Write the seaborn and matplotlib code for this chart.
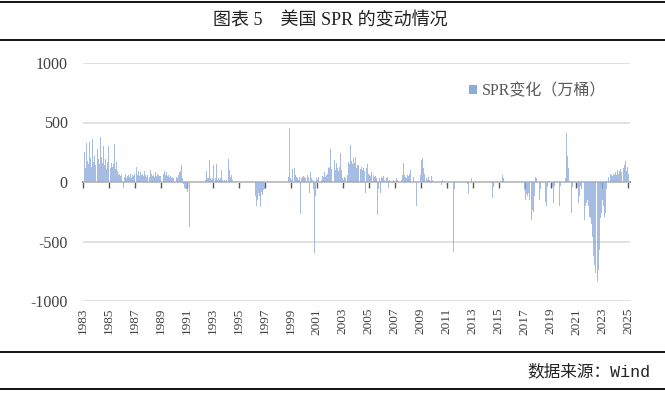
"""美国 SPR 周度变动柱状图（按月读取的近似值）。"""

import matplotlib
matplotlib.use("Agg")
import matplotlib.pyplot as plt
import numpy as np
import pandas as pd
import seaborn as sns
from matplotlib.lines import Line2D

START_YEAR = 1983

# SPR 变化（万桶），每行一年，1 月至 12 月
chg_1983_1989 = [
    160, 250, 120, 330, 180, 150, 340, 200, 130, 360, 170, 220,  # 1983
    140, 280, 190, 150, 380, 210, 160, 300, 140, 190, 110, 170,  # 1984
    300, 120, 160, 130, 150, 320, 110, 170, 90, 60, 70, 50,      # 1985
    60, -50, 40, 70, 30, 50, 60, 40, 70, 30, 60, 50,             # 1986
    70, 130, 60, 90, 50, 80, 60, 70, 50, 90, 60, 40,             # 1987
    60, 40, 105, 70, 50, 60, 40, 80, 50, 70, 60, 50,             # 1988
    50, 130, 70, 90, 60, 80, 50, 60, 40, 50, 30, 40,             # 1989
]
chg_1990_1999 = [
    30, 20, 40, 30, 60, 80, 90, 145, 30, -20, -50, -60,          # 1990
    -60, -80, -375, 0, 0, 0, 0, 0, 0, 0, 0, 0,                   # 1991
    0, 0, 0, 0, 0, 20, 90, 30, 30, 185, 30, 20,                  # 1992
    30, 140, 30, 155, 20, 30, 20, 30, 105, 20, 10, 20,           # 1993
    10, 20, 195, 100, 40, 60, 20, 0, 0, 0, 0, 0,                 # 1994
    0, 0, 0, 0, 0, 0, 0, 0, 0, 0, 0, 0,                          # 1995
    0, 0, -250, -120, -200, -150, -90, -120, -210, -80, -110, -70,  # 1996
    -60, 0, 0, 0, 0, 0, 0, 0, 0, 0, 0, 0,                        # 1997
    0, 0, 0, 0, 0, 0, 0, 0, 0, 0, 40, 450,                       # 1998
    30, 20, 110, 120, 60, 40, 30, 20, 40, -270, 30, 40,          # 1999
]
chg_2000_2009 = [
    50, 40, 30, 60, 40, -90, 85, 30, 20, -60, -600, -120,        # 2000
    30, 20, 40, 30, 20, 50, 40, 87, 40, 60, 70, 115,             # 2001
    130, 275, 110, 120, 185, 100, 160, 120, 90, 130, 240, 100,   # 2002
    30, 20, 40, 30, 60, 170, 150, 315, 180, 150, 200, 160,       # 2003
    210, 120, 140, 145, 110, 130, 100, 120, 90, -95, 115, 155,   # 2004
    70, 60, 50, 80, 60, 40, 50, 30, -275, -60, 30, -90,          # 2005
    40, 30, 48, 20, 30, 40, -50, 20, 10, 0, 10, 20,              # 2006
    10, 0, 30, 20, 10, 0, 20, 60, 160, 60, 40, 30,               # 2007
    60, 50, 70, 105, 87, 40, 0, 0, -205, 0, 0, 0,                # 2008
    60, 185, 200, 115, 70, 30, 20, 45, 20, 10, 50, 20,           # 2009
]
chg_2010_2019 = [
    0, 0, 0, 0, 0, 0, 0, -25, 15, 0, 0, 0,                       # 2010
    0, 0, 0, 0, 0, 0, -590, -60, 0, 0, 0, 0,                     # 2011
    0, 0, 0, 0, 0, 0, 0, -20, -100, 0, 0, 30,                    # 2012
    0, 0, 0, 0, 0, 0, 0, 0, 0, 0, 0, 0,                          # 2013
    0, 0, 0, 0, 0, 0, -137, -40, 0, 0, 0, 0,                     # 2014
    0, 0, 0, 0, 56, 30, 0, 0, 0, 0, 0, 0,                        # 2015
    0, 0, 0, 0, 0, 0, 0, 0, 0, 0, 0, 0,                          # 2016
    -70, -150, -100, -120, -90, -150, -320, -235, -250, -120, 40, 36,  # 2017
    0, 0, -150, -60, 0, 0, 0, -165, -205, -40, 0, 0,             # 2018
    0, 0, -40, -180, -30, 0, 0, 0, -205, -30, 0, 0,              # 2019
]
chg_2020_2025 = [
    0, 0, 30, 410, 215, 120, 60, -260, -40, 0, 0, 0,             # 2020
    0, -40, -180, -120, -30, -60, -150, -320, -200, -180, -150, -200,  # 2021
    -290, -300, -350, -460, -626, -700, -767, -840, -740, -570, -300, -260,  # 2022
    -150, -200, -290, -260, -60, 0, 40, 70, 60, 50, 70, 60,      # 2023
    80, 60, 100, 70, 90, 110, 80, 120, 145, 175, 90, 130,        # 2024
    70,                                                          # 2025
]

tick_years = list(range(1983, 2026, 2))
y_ticks = [-1000, -500, 0, 500, 1000]
title_text = "图表 5　美国 SPR 的变动情况"
legend_label = "SPR变化（万桶）"
source_text = "数据来源：Wind"

BAR_COLOR = "#8FAADC"
GRID_COLOR = "#D9D9D9"
AXIS_COLOR = "#595959"
TEXT_COLOR = "#404040"


def build_frame() -> pd.DataFrame:
    values = chg_1983_1989 + chg_1990_1999 + chg_2000_2009 + chg_2010_2019 + chg_2020_2025
    t = START_YEAR + np.arange(len(values)) / 12.0
    return pd.DataFrame({"t": t, "chg": values})


def main() -> None:
    df = build_frame()

    sns.set_theme(style="white")
    plt.rcParams["font.family"] = ["Liberation Serif", "Noto Sans CJK SC"]

    W, H = 665, 393
    fig = plt.figure(figsize=(W / 100, H / 100), dpi=100)
    ax = fig.add_axes([83 / W, 1 - 301 / H, (630 - 83) / W, (301 - 63) / H])

    sns.barplot(
        data=df, x="t", y="chg", native_scale=True, width=0.9,
        color=BAR_COLOR, saturation=1, errorbar=None, linewidth=0,
        alpha=0.78, label=legend_label, ax=ax,
    )

    ax.set_xlim(START_YEAR, 2025.12)
    ax.set_ylim(-1000, 1000)
    ax.set_yticks(y_ticks)
    ax.set_yticklabels([str(v) for v in y_ticks])
    ax.yaxis.grid(True, color=GRID_COLOR, linewidth=1.1)
    ax.set_axisbelow(True)
    for side in ("top", "right", "left", "bottom"):
        ax.spines[side].set_visible(False)
    ax.set_xlabel("")
    ax.set_ylabel("")
    ax.set_xticks(tick_years)
    ax.set_xticklabels([str(y) for y in tick_years], rotation=90)
    ax.tick_params(axis="x", length=0, pad=5, labelsize=9.5, labelcolor=TEXT_COLOR)
    ax.tick_params(axis="y", length=0, pad=11, labelsize=11.5, labelcolor=TEXT_COLOR)

    # 零轴与刻度线
    zero_ax = ax.secondary_xaxis(0.5)
    zero_ax.set_xticks(tick_years)
    zero_ax.tick_params(length=4, width=1, color=AXIS_COLOR, direction="in",
                        labeltop=False, labelbottom=False)
    for side in zero_ax.spines:
        zero_ax.spines[side].set_color(AXIS_COLOR)
        zero_ax.spines[side].set_linewidth(1.2)

    leg = ax.legend(
        loc="center left", bbox_to_anchor=(469 / W, 1 - 91 / H),
        bbox_transform=fig.transFigure, frameon=False, fontsize=11.5,
        handlelength=0.5, handleheight=0.5, handletextpad=0.3,
        borderpad=0, borderaxespad=0, labelcolor="#595959",
    )
    for handle in leg.legend_handles:
        handle.set_alpha(1)

    # 标题与来源的横线
    for y in (2, 40, 352, 389):
        fig.add_artist(Line2D([0, 1], [1 - y / H] * 2, color="black",
                              linewidth=1.3, transform=fig.transFigure))
    fig.text(330 / W, 1 - 21 / H, title_text, ha="center", va="center",
             fontsize=13, color="#222222")
    fig.text(650 / W, 1 - 371 / H, source_text, ha="right", va="center",
             fontsize=12, color="#222222",
             family=["Liberation Mono", "Noto Sans CJK SC"])

    fig.savefig("out.png", dpi=100)
    plt.close(fig)


if __name__ == "__main__":
    main()
